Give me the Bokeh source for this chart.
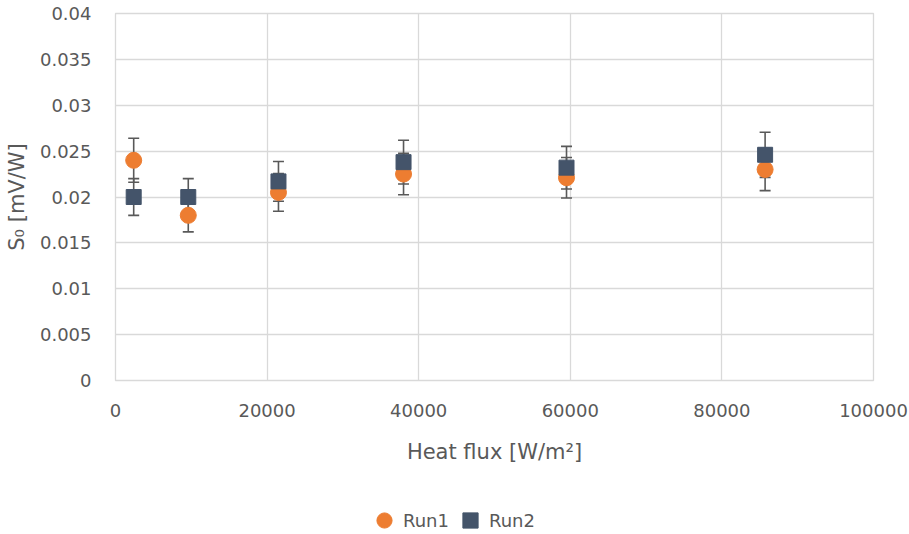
from bokeh.plotting import figure
from bokeh.layouts import column
from bokeh.models import (ColumnDataSource, Whisker, TeeHead, Legend, LegendItem,
                          FixedTicker, Range1d)
from bokeh.embed import file_html
from bokeh.resources import INLINE

# ---- data ----
heat_flux = [2400, 9600, 21500, 38000, 59500, 85700]
run1 = [0.0240, 0.0180, 0.0205, 0.0225, 0.0221, 0.0230]
run1_err = [0.0024, 0.0018, 0.00205, 0.00225, 0.00221, 0.0023]
run2 = [0.0200, 0.0200, 0.0217, 0.0238, 0.0232, 0.0246]
run2_err = [0.0020, 0.0020, 0.00217, 0.00238, 0.00232, 0.00246]

x_ticks = [0, 20000, 40000, 60000, 80000, 100000]
x_tick_labels = ["0", "20000", "40000", "60000", "80000", "100000"]
y_ticks = [0, 0.005, 0.01, 0.015, 0.02, 0.025, 0.03, 0.035, 0.04]
y_tick_labels = ["0", "0.005", "0.01", "0.015", "0.02", "0.025", "0.03", "0.035", "0.04"]

FONT = "DejaVu Sans"
TXT = "#595959"
GRID = "#d9d9d9"
ORANGE = "#ED7D31"
NAVY = "#44546A"

src1 = ColumnDataSource(dict(x=heat_flux, y=run1,
                             lo=[v - e for v, e in zip(run1, run1_err)],
                             hi=[v + e for v, e in zip(run1, run1_err)]))
src2 = ColumnDataSource(dict(x=heat_flux, y=run2,
                             lo=[v - e for v, e in zip(run2, run2_err)],
                             hi=[v + e for v, e in zip(run2, run2_err)]))

p = figure(width=909, height=480, output_backend="svg", toolbar_location=None,
           x_range=Range1d(0, 100000), y_range=Range1d(0, 0.04),
           min_border_left=115, min_border_right=36, min_border_top=13, min_border_bottom=100)
p.outline_line_color = GRID
p.outline_line_width = 1.3

for ax in (p.xaxis, p.yaxis):
    ax.axis_line_color = None
    ax.major_tick_line_color = None
    ax.minor_tick_line_color = None
    ax.major_tick_out = 0
    ax.major_tick_in = 0
    ax.major_label_text_font = FONT
    ax.major_label_text_font_size = "18px"
    ax.major_label_text_color = TXT
    ax.axis_label_text_font = FONT
    ax.axis_label_text_font_size = "21px"
    ax.axis_label_text_font_style = "normal"
    ax.axis_label_text_color = TXT

p.xaxis.ticker = FixedTicker(ticks=x_ticks)
p.xaxis.major_label_overrides = {t: l for t, l in zip(x_ticks, x_tick_labels)}
p.yaxis.ticker = FixedTicker(ticks=y_ticks)
p.yaxis.major_label_overrides = {t: l for t, l in zip(y_ticks, y_tick_labels)}
p.xaxis.major_label_standoff = 23
p.yaxis.major_label_standoff = 24
p.xaxis.axis_label = "Heat flux [W/m²]"
p.yaxis.axis_label = "S₀ [mV/W]"
p.xaxis.axis_label_standoff = 20
p.yaxis.axis_label_standoff = 8

p.xgrid.grid_line_color = GRID
p.ygrid.grid_line_color = GRID
p.xgrid.grid_line_width = 1.3
p.ygrid.grid_line_width = 1.3

for src in (src1, src2):
    w = Whisker(base="x", upper="hi", lower="lo", source=src,
                line_color="#595959", line_width=1.6,
                upper_head=TeeHead(size=11, line_color="#595959", line_width=1.6),
                lower_head=TeeHead(size=11, line_color="#595959", line_width=1.6))
    p.add_layout(w)

p.scatter("x", "y", source=src1, marker="circle", size=16,
          fill_color=ORANGE, line_color=ORANGE)
p.scatter("x", "y", source=src2, marker="square", size=15,
          fill_color=NAVY, line_color=NAVY)

# ---- legend strip below the chart ----
pl = figure(width=909, height=54, output_backend="svg", toolbar_location=None,
            x_range=Range1d(0, 1), y_range=Range1d(0, 1),
            x_axis_type=None, y_axis_type=None,
            min_border_left=0, min_border_right=0, min_border_top=0, min_border_bottom=0)
pl.outline_line_color = None
pl.xgrid.visible = False
pl.ygrid.visible = False
l1 = pl.scatter("x", "y", source=src1, marker="circle", fill_color=ORANGE, line_color=ORANGE)
l2 = pl.scatter("x", "y", source=src2, marker="square", fill_color=NAVY, line_color=NAVY)

legend = Legend(items=[LegendItem(label="Run1", renderers=[l1]),
                       LegendItem(label="Run2", renderers=[l2])],
                orientation="horizontal", location=(250, -5),
                border_line_color=None, background_fill_alpha=0,
                label_text_font=FONT, label_text_font_size="18px",
                label_text_color=TXT, glyph_width=38, glyph_height=38,
                label_standoff=0, spacing=2, padding=0, margin=0)
pl.add_layout(legend)

open("out.html", "w").write(file_html(column(p, pl), INLINE))
